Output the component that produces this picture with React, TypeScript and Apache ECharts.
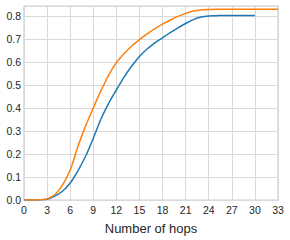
import React, { useEffect, useRef } from "react";
import * as echarts from "echarts";

const hopsOrange = [0,1,2,3,4,5,6,7,8,9,10,11,12,13,14,15,16,17,18,19,20,21,22,23,24,25,26,27,28,29,30,31,32,33];
const orangeValues = [0,0,0.001,0.005,0.023,0.065,0.13,0.232,0.322,0.40,0.475,0.543,0.597,0.636,0.669,0.697,0.722,0.745,0.764,0.782,0.798,0.811,0.821,0.826,0.828,0.829,0.829,0.829,0.829,0.829,0.829,0.829,0.829,0.829];
const hopsBlue = [0,1,2,3,4,5,6,7,8,9,10,11,12,13,14,15,16,17,18,19,20,21,22,23,24,25,26,27,28,29,30];
const blueValues = [0,0,0.0005,0.003,0.017,0.038,0.074,0.127,0.19,0.268,0.352,0.42,0.478,0.534,0.582,0.624,0.656,0.683,0.705,0.727,0.748,0.767,0.784,0.795,0.800,0.801,0.802,0.802,0.802,0.802,0.802];
const xAxisTitle = "Number of hops";

export default function App() {
  const ref = useRef<HTMLDivElement>(null);
  useEffect(() => {
    if (!ref.current) return;
    const chart = echarts.init(ref.current, undefined, { renderer: "svg" });
    const font = "Liberation Sans";
    chart.setOption({
      animation: false,
      textStyle: { fontFamily: font },
      grid: {
        left: 24, right: 12, top: 6, bottom: 35,
        show: true, borderColor: "#cccccc", borderWidth: 1.25, backgroundColor: "#ffffff",
      },
      xAxis: {
        type: "value", min: 0, max: 33, interval: 3,
        name: xAxisTitle, nameLocation: "middle", nameGap: 22,
        nameTextStyle: { fontFamily: font, fontSize: 13, color: "#262626" },
        axisLine: { show: false }, axisTick: { show: false },
        axisLabel: { fontFamily: font, fontSize: 10.5, color: "#262626", margin: 4 },
        splitLine: { show: true, lineStyle: { color: "#d9d9d9", width: 1 } },
      },
      yAxis: {
        type: "value", min: 0, max: 0.843, interval: 0.1,
        axisLine: { show: false }, axisTick: { show: false },
        axisLabel: {
          fontFamily: font, fontSize: 10.5, color: "#262626", margin: 3,
          formatter: (v: number) => {
            const r = Math.round(v * 10) / 10;
            return Math.abs(r - v) < 1e-6 ? r.toFixed(1) : "";
          },
        },
        splitLine: { show: true, lineStyle: { color: "#d9d9d9", width: 1 } },
      },
      series: [
        {
          type: "line", data: hopsBlue.map((h, i) => [h, blueValues[i]]),
          showSymbol: false, smooth: 0.3,
          lineStyle: { color: "#1f77b4", width: 1.5 },
        },
        {
          type: "line", data: hopsOrange.map((h, i) => [h, orangeValues[i]]),
          showSymbol: false, smooth: 0.3,
          lineStyle: { color: "#ff7f0e", width: 1.5 },
        },
      ],
    });
    return () => chart.dispose();
  }, []);
  return <div ref={ref} style={{ width: 290, height: 240, position: "absolute", left: 0, top: 0 }} />;
}
